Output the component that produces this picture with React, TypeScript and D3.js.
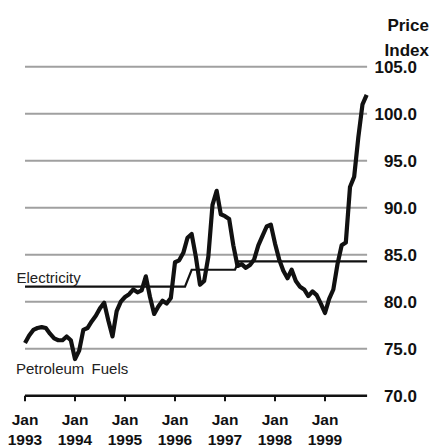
import React from "react";
import * as d3 from "d3";

// Petroleum fuels price index, monthly from Jan 1993
const petroleum: number[] = [
  75.6, 76.4, 77.0, 77.2, 77.3, 77.2, 76.6, 76.1, 75.9, 75.9, 76.3, 75.9,
  73.9, 74.8, 77.0, 77.2, 77.9, 78.5, 79.3, 79.9, 78.0, 76.3, 79.0, 80.0,
  80.5, 80.8, 81.3, 81.0, 81.2, 82.7, 80.5, 78.7, 79.5, 80.1, 79.8, 80.4,
  84.2, 84.4, 85.2, 86.8, 87.2, 84.8, 81.8, 82.2, 84.8, 90.3, 91.8, 89.3,
  89.1, 88.8, 86.0, 83.8, 84.0, 83.6, 83.9, 84.5, 86.0, 87.0, 88.0, 88.2,
  86.2, 84.5, 83.3, 82.5, 83.4, 82.2, 81.6, 81.3, 80.6, 81.1, 80.7, 79.8,
  78.8, 80.3, 81.3, 84.0, 86.0, 86.3, 92.2, 93.3, 97.5, 101.0, 102.0,
];

// Electricity price index (step-like), month index / value
const elecMonths: number[] = [0, 38.4, 40, 50.4, 51.3, 82.1];
const elecValues: number[] = [81.6, 81.6, 83.4, 83.4, 84.3, 84.3];

const yTicks: number[] = [70, 75, 80, 85, 90, 95, 100, 105];
const xTickMonths: number[] = [0, 12, 24, 36, 48, 60, 72];
const xTickYears: string[] = ["1993", "1994", "1995", "1996", "1997", "1998", "1999"];

const W = 431;
const H = 447;

export default function App() {
  const x = d3.scaleLinear().domain([0, 72]).range([25, 325]);
  const y = d3.scaleLinear().domain([70, 105]).range([395.7, 66.7]);
  const xEnd = x(82.1);

  const petLine = d3
    .line<number>()
    .x((_, i) => x(i))
    .y((d) => y(d))
    .curve(d3.curveLinear)(petroleum) as string;

  const elecLine = d3
    .line<number>()
    .x((d) => x(d))
    .y((_, i) => y(elecValues[i]))(elecMonths) as string;

  const font = "Liberation Sans, Arial, Helvetica, sans-serif";

  return (
    <svg
      width={W}
      height={H}
      viewBox={`0 0 ${W} ${H}`}
      style={{ position: "absolute", left: 0, top: 0, background: "#fff" }}
      fontFamily={font}
    >
      {/* gridlines */}
      {yTicks
        .filter((t) => t > 70)
        .map((t) => (
          <line
            key={t}
            x1={x(0)}
            x2={xEnd}
            y1={y(t)}
            y2={y(t)}
            stroke="#a0a0a0"
            strokeWidth={2}
          />
        ))}
      {/* bottom axis */}
      <line x1={x(0)} x2={xEnd} y1={y(70)} y2={y(70)} stroke="#111" strokeWidth={2.5} />
      {xTickMonths.map((m) => (
        <line key={m} x1={x(m)} x2={x(m)} y1={y(70)} y2={y(70) + 5.5} stroke="#111" strokeWidth={2} />
      ))}
      {xTickMonths.map((m, i) => (
        <g key={"l" + m} fontWeight="bold" fontSize={15.5} fill="#111" textAnchor="middle">
          <text x={x(m)} y={425}>Jan</text>
          <text x={x(m)} y={444.5}>{xTickYears[i]}</text>
        </g>
      ))}
      {/* y labels */}
      {yTicks.map((t) => (
        <text
          key={"y" + t}
          x={417}
          y={y(t) + 6.3}
          textAnchor="end"
          fontWeight="bold"
          fontSize={17}
          fill="#111"
        >
          {t.toFixed(1)}
        </text>
      ))}
      <text x={429} y={31} textAnchor="end" fontWeight="bold" fontSize={17} fill="#111">
        Price
      </text>
      <text x={429} y={55.5} textAnchor="end" fontWeight="bold" fontSize={17} fill="#111">
        Index
      </text>
      {/* electricity */}
      <path d={elecLine} fill="none" stroke="#111" strokeWidth={2.2} />
      <text x={16.5} y={283.3} fontSize={15} fill="#222">
        Electricity
      </text>
      {/* petroleum */}
      <path d={petLine} fill="none" stroke="#111" strokeWidth={4.2} strokeLinejoin="round" strokeLinecap="butt" />
      <text x={16} y={374} fontSize={15} fill="#222" wordSpacing={3}>
        Petroleum Fuels
      </text>
    </svg>
  );
}
